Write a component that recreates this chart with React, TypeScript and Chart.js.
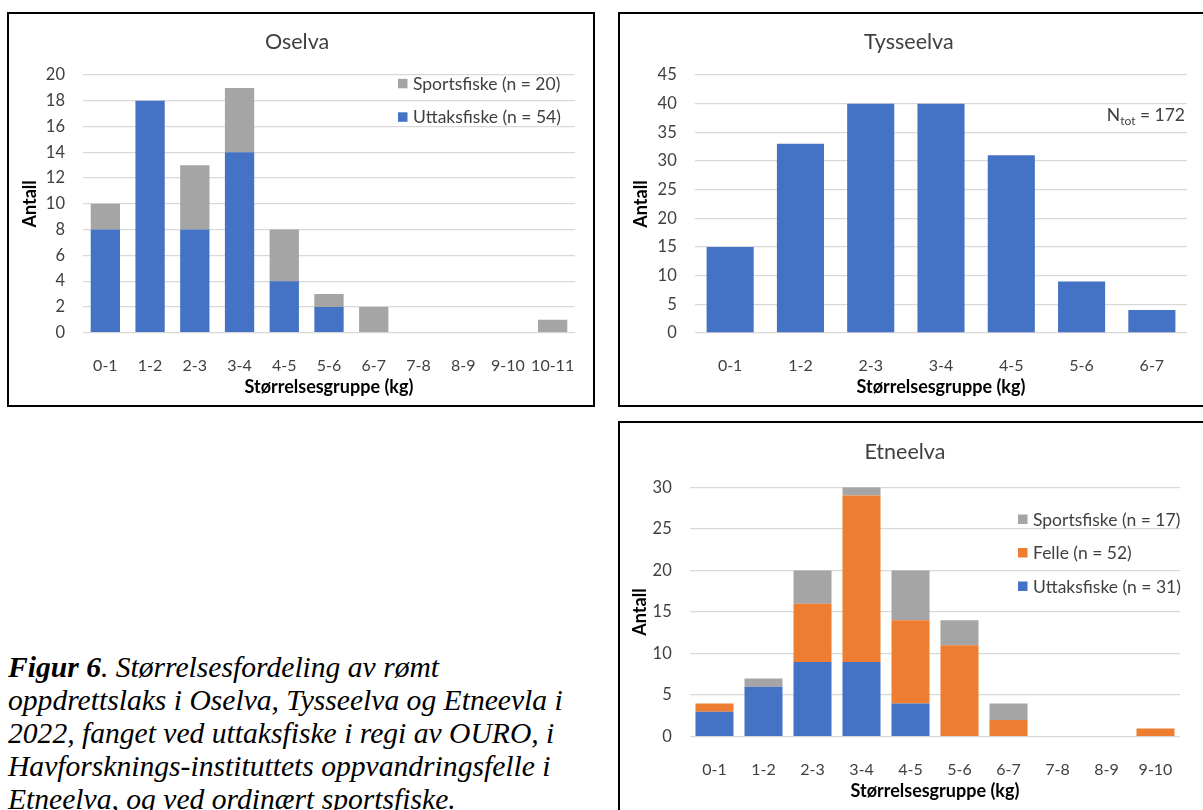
import React, { useEffect, useRef } from "react";
import { Chart, registerables } from "chart.js";

Chart.register(...registerables);

// ---- data ----
const oselvaGroups = ["0-1", "1-2", "2-3", "3-4", "4-5", "5-6", "6-7", "7-8", "8-9", "9-10", "10-11"];
const oselvaUttaksfiske = [8, 18, 8, 14, 4, 2, 0, 0, 0, 0, 0];
const oselvaSportsfiske = [2, 0, 5, 5, 4, 1, 2, 0, 0, 0, 1];

const tysseGroups = ["0-1", "1-2", "2-3", "3-4", "4-5", "5-6", "6-7"];
const tysseAntall = [15, 33, 40, 40, 31, 9, 4];

const etneGroups = ["0-1", "1-2", "2-3", "3-4", "4-5", "5-6", "6-7", "7-8", "8-9", "9-10"];
const etneUttaksfiske = [3, 6, 9, 9, 4, 0, 0, 0, 0, 0];
const etneFelle = [1, 0, 7, 20, 10, 11, 2, 0, 0, 1];
const etneSportsfiske = [0, 1, 4, 1, 6, 3, 2, 0, 0, 0];

const X_TITLE = "Størrelsesgruppe (kg)";
const Y_TITLE = "Antall";

// ---- look ----
const FONT = "Lato, 'Liberation Sans', sans-serif";
const INK = "#404040";
const GRID = "#D9D9D9";
const BLUE = "#4472C4";
const GREY = "#A5A5A5";
const ORANGE = "#ED7D31";

const CANVAS_W = 584;
const CANVAS_H = 391;
const LEGEND_SIZE = 17.5;
const AXIS_TITLE_SIZE = 18;

const sum = (a: number[]) => a.reduce((s, v) => s + v, 0);

type Series = { label: string; data: number[]; color: string };

type PanelSpec = {
  title: string;
  groups: string[];
  series: Series[]; // bottom to top
  yMax: number;
  yStep: number;
  left: number;
  top: number;
  padL: number;
  padR: number;
  yWidth: number;
  yTickPad: number;
  titleTop: number;
  titleBottom: number;
  xHeight: number;
  xTickPad: number;
  xTitlePad: number;
  barPct: number;
  legend?: { x: number; y: number; dy: number };
  note?: { x: number; y: number; total: number };
};

// legend drawn inside the plot, top item = top of the stack
function legendPlugin(items: Series[], pos: { x: number; y: number; dy: number }) {
  return {
    id: "insideLegend",
    afterDraw(chart: Chart) {
      const ctx = chart.ctx;
      ctx.save();
      ctx.font = `${LEGEND_SIZE}px ${FONT}`;
      ctx.textBaseline = "middle";
      ctx.textAlign = "left";
      items.forEach((item, i) => {
        const y = pos.y + i * pos.dy;
        ctx.fillStyle = item.color;
        ctx.fillRect(pos.x, y - 4.5, 9.5, 9.5);
        ctx.fillStyle = INK;
        ctx.fillText(item.label, pos.x + 15, y + 1);
      });
      ctx.restore();
    },
  };
}

// "N_tot = 172" note, right aligned
function notePlugin(note: { x: number; y: number; total: number }) {
  return {
    id: "totalNote",
    afterDraw(chart: Chart) {
      const ctx = chart.ctx;
      ctx.save();
      ctx.fillStyle = INK;
      ctx.textBaseline = "alphabetic";
      ctx.textAlign = "left";
      const main = `${LEGEND_SIZE}px ${FONT}`;
      const small = `12px ${FONT}`;
      const rest = ` = ${note.total}`;
      ctx.font = main;
      const wN = ctx.measureText("N").width;
      const wRest = ctx.measureText(rest).width;
      ctx.font = small;
      const wSub = ctx.measureText("tot").width;
      let x = note.x - (wN + wSub + wRest);
      const base = note.y + 6;
      ctx.font = main;
      ctx.fillText("N", x, base);
      x += wN;
      ctx.font = small;
      ctx.fillText("tot", x, base + 4);
      x += wSub;
      ctx.font = main;
      ctx.fillText(rest, x, base);
      ctx.restore();
    },
  };
}

function BarPanel({ spec }: { spec: PanelSpec }) {
  const ref = useRef<HTMLCanvasElement>(null);

  useEffect(() => {
    if (!ref.current) return;
    const extra: any[] = [];
    if (spec.legend) extra.push(legendPlugin(spec.series.slice().reverse(), spec.legend));
    if (spec.note) extra.push(notePlugin(spec.note));

    const chart = new Chart(ref.current, {
      type: "bar",
      data: {
        labels: spec.groups,
        datasets: spec.series.map((s) => ({
          label: s.label,
          data: s.data,
          backgroundColor: s.color,
          borderWidth: 0,
          barPercentage: spec.barPct,
          categoryPercentage: 1,
        })),
      },
      options: {
        responsive: false,
        animation: false,
        layout: { padding: { left: spec.padL, right: spec.padR, top: 0, bottom: 0 } },
        plugins: {
          legend: { display: false },
          tooltip: { enabled: false },
          title: {
            display: true,
            text: spec.title,
            color: INK,
            font: { family: FONT, size: 21.5, weight: "normal" },
            padding: { top: spec.titleTop, bottom: spec.titleBottom },
          },
        },
        scales: {
          x: {
            stacked: true,
            grid: { display: false },
            border: { display: false },
            ticks: {
              color: INK,
              font: { family: FONT, size: 16 },
              padding: spec.xTickPad,
              maxRotation: 0,
              autoSkip: false,
            },
            title: {
              display: true,
              text: X_TITLE,
              color: "#000",
              font: { family: FONT, size: AXIS_TITLE_SIZE, weight: "bold" },
              padding: { top: 0, bottom: spec.xTitlePad },
            },
            afterFit: (s: any) => {
              s.height = spec.xHeight;
            },
          },
          y: {
            stacked: true,
            min: 0,
            max: spec.yMax,
            grid: { color: GRID, lineWidth: 1.3, drawTicks: false },
            border: { display: false },
            ticks: {
              stepSize: spec.yStep,
              color: INK,
              font: { family: FONT, size: 16.5 },
              padding: spec.yTickPad,
            },
            title: {
              display: true,
              text: Y_TITLE,
              color: "#000",
              font: { family: FONT, size: AXIS_TITLE_SIZE, weight: "bold" },
              padding: 0,
            },
            afterFit: (s: any) => {
              s.width = spec.yWidth;
            },
          },
        },
      },
      plugins: extra,
    });
    return () => chart.destroy();
  }, [spec]);

  return (
    <div
      style={{
        position: "absolute",
        left: spec.left,
        top: spec.top,
        width: CANVAS_W + 4,
        height: CANVAS_H + 4,
        border: "2px solid #000",
        boxSizing: "border-box",
        background: "#fff",
      }}
    >
      <canvas
        ref={ref}
        width={CANVAS_W}
        height={CANVAS_H}
        style={{ display: "block", width: CANVAS_W, height: CANVAS_H }}
      />
    </div>
  );
}

const oselvaSpec: PanelSpec = {
  title: "Oselva",
  groups: oselvaGroups,
  series: [
    { label: `Uttaksfiske (n = ${sum(oselvaUttaksfiske)})`, data: oselvaUttaksfiske, color: BLUE },
    { label: `Sportsfiske (n = ${sum(oselvaSportsfiske)})`, data: oselvaSportsfiske, color: GREY },
  ],
  yMax: 20,
  yStep: 2,
  left: 7,
  top: 12,
  padL: 10.1,
  padR: 18,
  yWidth: 63.9,
  yTickPad: 18,
  titleTop: 15.6,
  titleBottom: 19.6,
  xHeight: 72.3,
  xTickPad: 16,
  xTitlePad: 7.5,
  barPct: 0.655,
  legend: { x: 389, y: 69.3, dy: 33.5 },
};

const tysseSpec: PanelSpec = {
  title: "Tysseelva",
  groups: tysseGroups,
  series: [{ label: "Antall", data: tysseAntall, color: BLUE }],
  yMax: 45,
  yStep: 5,
  left: 618,
  top: 12,
  padL: 10.6,
  padR: 17,
  yWidth: 64.4,
  yTickPad: 18.3,
  titleTop: 15.4,
  titleBottom: 19.8,
  xHeight: 72,
  xTickPad: 15.7,
  xTitlePad: 7.5,
  barPct: 0.67,
  note: { x: 565, y: 101, total: sum(tysseAntall) },
};

const etneSpec: PanelSpec = {
  title: "Etneelva",
  groups: etneGroups,
  series: [
    { label: `Uttaksfiske (n = ${sum(etneUttaksfiske)})`, data: etneUttaksfiske, color: BLUE },
    { label: `Felle (n = ${sum(etneFelle)})`, data: etneFelle, color: ORANGE },
    { label: `Sportsfiske (n = ${sum(etneSportsfiske)})`, data: etneSportsfiske, color: GREY },
  ],
  yMax: 30,
  yStep: 5,
  left: 618,
  top: 421,
  padL: 9.8,
  padR: 24,
  yWidth: 60.2,
  yTickPad: 18.3,
  titleTop: 15.8,
  titleBottom: 22.7,
  xHeight: 77.3,
  xTickPad: 15.4,
  xTitlePad: 12.2,
  barPct: 0.776,
  legend: { x: 398, y: 96, dy: 33.5 },
};

export default function App() {
  return (
    <div
      style={{
        position: "absolute",
        left: 0,
        top: 0,
        width: 1203,
        height: 810,
        overflow: "hidden",
        background: "#fff",
      }}
    >
      <BarPanel spec={oselvaSpec} />
      <BarPanel spec={tysseSpec} />
      <BarPanel spec={etneSpec} />
      <div
        style={{
          position: "absolute",
          left: 8,
          top: 651,
          fontFamily: "'Liberation Serif', 'Times New Roman', serif",
          fontStyle: "italic",
          fontSize: 29.6,
          lineHeight: "33px",
          whiteSpace: "nowrap",
          color: "#000",
        }}
      >
        <b>Figur 6</b>. Størrelsesfordeling av rømt
        <br />
        oppdrettslaks i Oselva, Tysseelva og Etneevla i
        <br />
        2022, fanget ved uttaksfiske i regi av OURO, i
        <br />
        Havforsknings-instituttets oppvandringsfelle i
        <br />
        Etneelva, og ved ordinært sportsfiske.
      </div>
    </div>
  );
}
